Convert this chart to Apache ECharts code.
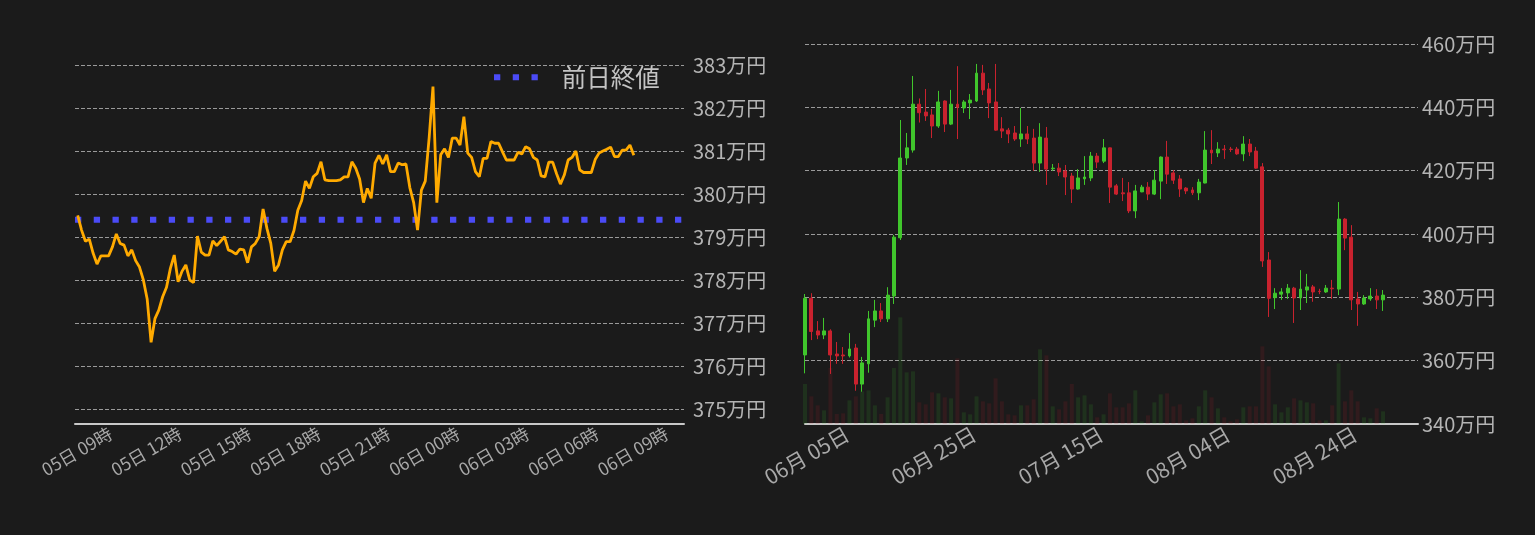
<!DOCTYPE html>
<html>
<head>
<meta charset="utf-8">
<script src="https://cdn.jsdelivr.net/npm/echarts@6/dist/echarts.min.js"></script>
<style>
html,body{margin:0;padding:0;background:#1b1b1b;}
#chart{width:1535px;height:535px;}
</style>
</head>
<body>
<div id="chart"></div>
<script>
// ---------- Left chart: intraday price (10-minute steps) ----------
const priceStart = '2023-09-05T07:35:00Z';
const priceStepMinutes = 10;
const prices = [
  379.50,379.16,378.90,378.95,378.62,378.37,378.56,378.56,378.56,378.77,
  379.07,378.85,378.81,378.56,378.70,378.45,378.30,378.00,377.55,376.55,
  377.10,377.30,377.61,377.83,378.27,378.58,377.96,378.20,378.35,378.00,
  377.94,379.02,378.65,378.58,378.58,378.91,378.80,378.90,379.01,378.70,
  378.66,378.60,378.72,378.70,378.40,378.77,378.85,379.01,379.65,379.20,
  378.85,378.20,378.35,378.70,378.89,378.89,379.15,379.62,379.85,380.30,
  380.13,380.40,380.48,380.75,380.33,380.31,380.31,380.31,380.33,380.40,
  380.40,380.75,380.60,380.35,379.80,380.13,379.90,380.72,380.90,380.70,
  380.91,380.52,380.52,380.72,380.68,380.70,380.15,379.80,379.16,380.09,
  380.30,381.30,382.50,379.80,380.91,381.05,380.85,381.30,381.30,381.14,
  381.80,380.95,380.85,380.52,380.40,380.83,380.83,381.22,381.18,381.18,
  380.98,380.79,380.79,380.79,380.97,380.93,381.10,381.05,380.85,380.79,
  380.42,380.40,380.74,380.74,380.47,380.23,380.44,380.79,380.85,381.00,
  380.56,380.50,380.50,380.50,380.80,380.95,381.00,381.04,381.09,380.87,
  380.87,381.02,381.02,381.14,380.90
];
const prevCloseName = '前日終値';
const prevClose = 379.4;
const priceAxisMin = '2023-09-05T07:28:00Z';
const priceAxisMax = '2023-09-06T09:45:00Z';
const priceTickTimes = [
  '2023-09-05T09:00:00Z','2023-09-05T12:00:00Z','2023-09-05T15:00:00Z',
  '2023-09-05T18:00:00Z','2023-09-05T21:00:00Z','2023-09-06T00:00:00Z',
  '2023-09-06T03:00:00Z','2023-09-06T06:00:00Z','2023-09-06T09:00:00Z'
];

// ---------- Right chart: daily candles ----------
const candleFirstDay = '2023-05-29T09:00:00Z';
const candleAxisSpanDays = 96.5;
const opens = [
  361.8,379.7,369.4,368.1,369.4,362.1,361.8,361.5,364.0,352.6,
  359.0,372.8,375.7,373.2,380.4,398.8,424.0,426.5,441.0,438.5,
  437.6,434.1,442.0,434.7,441.0,439.8,441.4,442.0,450.8,445.8,
  441.7,433.2,432.8,431.9,430.0,431.6,430.3,422.4,430.3,420.6,
  420.8,419.9,418.3,414.2,417.4,417.7,424.6,423.0,427.2,415.2,
  413.0,413.0,407.3,413.3,414.8,412.6,416.7,424.3,419.3,417.4,
  414.5,413.9,413.0,416.1,426.5,425.6,426.8,426.8,426.8,425.3,
  428.4,426.2,421.2,391.8,379.9,381.0,381.4,382.9,379.8,382.3,
  383.3,381.9,381.7,382.9,382.6,404.7,399.0,379.5,377.9,379.5,
  380.4,379.2
];
const closes = [
  379.7,369.2,368.1,369.4,361.8,361.5,361.5,363.7,352.6,359.3,
  373.2,375.7,373.2,380.7,399.0,424.0,427.2,441.0,438.3,437.3,
  434.1,441.7,434.7,441.0,440.0,441.7,442.3,450.8,445.5,441.4,
  432.8,432.5,431.6,430.0,431.6,430.0,422.4,430.6,420.5,420.8,
  419.6,418.0,414.2,417.7,418.0,424.6,422.7,427.2,414.8,412.6,
  412.7,407.3,413.6,414.8,412.6,417.0,424.3,418.9,417.0,414.2,
  413.6,413.0,416.4,426.5,425.6,426.8,426.6,426.7,425.3,428.4,
  425.9,420.8,391.5,379.7,381.3,381.7,382.9,379.8,382.6,383.3,
  381.7,381.8,382.9,382.7,404.7,398.7,379.2,377.9,379.8,380.4,
  379.2,380.7
];
const lows = [
  356.0,366.5,366.8,366.8,355.8,359.0,359.0,361.0,350.5,350.2,
  356.2,370.6,372.2,372.2,377.9,398.1,421.8,425.7,435.2,435.7,
  430.3,433.5,432.2,434.4,430.0,438.2,436.3,441.7,443.9,436.6,
  432.6,430.3,428.7,429.4,427.5,428.4,419.9,419.6,415.5,419.9,
  418.3,412.3,409.8,414.0,415.5,416.7,420.8,422.4,409.8,412.3,
  410.4,406.6,405.0,413.2,410.7,412.3,411.0,415.8,415.8,411.7,
  412.6,412.3,410.7,416.0,422.1,424.3,423.7,425.9,425.0,423.0,
  424.6,420.6,389.6,373.8,376.3,379.2,379.5,371.9,376.0,378.2,
  378.6,381.0,381.4,379.5,380.7,394.9,376.0,371.0,377.6,378.9,
  376.3,375.7
];
const highs = [
  381.05,381.3,372.5,373.5,369.9,365.9,364.3,368.7,365.3,361.2,
  375.7,379.2,378.2,383.2,399.7,436.0,431.9,449.9,442.8,445.8,
  439.5,445.2,442.2,445.5,453.0,442.3,444.2,453.7,453.4,447.7,
  453.7,436.9,433.5,434.1,439.8,434.1,433.2,435.0,433.8,422.1,
  422.4,421.8,419.3,420.5,424.6,425.9,425.6,430.0,427.3,415.8,
  417.7,416.4,415.5,415.5,416.4,420.2,424.5,429.4,420.2,418.6,
  414.8,414.8,417.4,432.5,432.8,429.0,428.1,427.5,427.5,430.9,
  430.0,427.5,422.4,394.3,382.9,382.9,384.2,383.3,388.6,387.4,
  383.9,382.7,383.9,385.5,410.1,405.0,402.8,381.7,380.7,382.9,
  382.6,382.3
];
const volumes = [
  120,83,56,41,168,30,32,71,83,98,
  101,56,30,80,168,320,155,158,65,59,
  95,92,80,77,197,35,29,83,68,62,
  137,68,29,26,56,56,74,224,206,53,
  44,68,120,80,86,59,20,29,92,50,
  50,62,101,8,26,65,89,92,53,59,
  11,17,53,101,80,47,20,8,14,50,
  53,53,233,173,59,35,50,77,71,65,
  62,11,11,56,182,68,101,68,20,17,
  47,38
];
const dateTickTimes = [
  '2023-06-05T00:00:00Z','2023-06-25T00:00:00Z','2023-07-15T00:00:00Z',
  '2023-08-04T00:00:00Z','2023-08-24T00:00:00Z'
];

// ---------- build ----------
const DAY = 86400000;
const pad = n => (n < 10 ? '0' : '') + n;
const t0 = Date.parse(priceStart);
const lineData = prices.map((v, k) => [t0 + k * priceStepMinutes * 60000, v]);
const lMin = Date.parse(priceAxisMin), lMax = Date.parse(priceAxisMax);
const c0 = Date.parse(candleFirstDay);
const candleData = opens.map((o, i) => [c0 + i * DAY, o, closes[i], lows[i], highs[i]]);
const UP = '#40c62c', DOWN = '#c9222e';
const volData = volumes.map((v, i) => ({
  value: [c0 + i * DAY, v],
  itemStyle: { color: closes[i] >= opens[i] ? 'rgba(64,198,44,0.13)' : 'rgba(201,34,46,0.13)' }
}));

const FONT = '"Noto Sans CJK JP", "Noto Sans", sans-serif';
const LABEL = '#b4b4b4';
const gridLine = { show: true, lineStyle: { color: '#9a9a9a', width: 1, type: [4, 2] } };

const chart = echarts.init(document.getElementById('chart'), null, { renderer: 'canvas' });
chart.setOption({
  backgroundColor: '#1b1b1b',
  animation: false,
  textStyle: { fontFamily: FONT },
  legend: {
    data: [{ name: prevCloseName, icon: 'path://M0,0h6.3v6h-6.3z M18.75,0h6.3v6h-6.3z M37.5,0h6.3v6h-6.3z' }],
    left: 489, top: 60,
    itemWidth: 43.8, itemHeight: 6,
    textStyle: { color: '#c4c4c4', fontSize: 24.5, fontFamily: FONT, padding: [0, 0, 0, 19] }
  },
  grid: [
    { left: 75, width: 609, top: 65, bottom: 111 },
    { left: 805, width: 613, top: 44, bottom: 111 }
  ],
  xAxis: [
    {
      type: 'value', gridIndex: 0, min: lMin, max: lMax,
      axisLine: { show: true, lineStyle: { color: '#c8c8c8', width: 2 } },
      axisTick: { show: false }, splitLine: { show: false },
      axisLabel: {
        customValues: priceTickTimes.map(s => Date.parse(s)),
        rotate: 30, color: '#a8a8a8', fontSize: 17.5, margin: 8, fontFamily: FONT,
        formatter: v => { const d = new Date(v); return pad(d.getUTCDate()) + '日 ' + pad(d.getUTCHours()) + '時'; }
      }
    },
    {
      type: 'value', gridIndex: 1, min: c0, max: c0 + candleAxisSpanDays * DAY,
      axisLine: { show: true, lineStyle: { color: '#c8c8c8', width: 2 } },
      axisTick: { show: false }, splitLine: { show: false },
      axisLabel: {
        customValues: dateTickTimes.map(s => Date.parse(s)),
        rotate: 30, color: '#a8a8a8', fontSize: 21, margin: 8, fontFamily: FONT,
        formatter: v => { const d = new Date(v); return pad(d.getUTCMonth() + 1) + '月 ' + pad(d.getUTCDate()) + '日'; }
      }
    }
  ],
  yAxis: [
    {
      type: 'value', gridIndex: 0, position: 'right', min: 374.65, max: 383, splitNumber: 9,
      axisLine: { show: false }, axisTick: { show: false }, splitLine: gridLine,
      axisLabel: {
        color: LABEL, fontSize: 20, margin: 9, fontFamily: FONT,
        formatter: v => (Math.abs(v - Math.round(v)) < 1e-6 ? Math.round(v) + '万円' : '')
      }
    },
    {
      type: 'value', gridIndex: 1, position: 'right', min: 340, max: 460, interval: 20,
      axisLine: { show: false }, axisTick: { show: false }, splitLine: gridLine,
      axisLabel: { color: LABEL, fontSize: 20, margin: 4, fontFamily: FONT, formatter: v => v + '万円' }
    },
    {
      type: 'value', gridIndex: 1, min: 0, max: 1140, show: false,
      splitLine: { show: false }
    }
  ],
  series: [
    {
      type: 'line', xAxisIndex: 0, yAxisIndex: 0, data: lineData,
      showSymbol: false, symbol: 'none', z: 3,
      lineStyle: { color: '#ffaa00', width: 2.8 }, itemStyle: { color: '#ffaa00' }
    },
    {
      name: prevCloseName, type: 'line', xAxisIndex: 0, yAxisIndex: 0,
      data: [[lMin, prevClose], [lMax, prevClose]],
      showSymbol: false, symbol: 'none', z: 2,
      lineStyle: { color: '#4b4bf7', width: 6, type: [6.3, 12.45] },
      itemStyle: { color: '#4b4bf7' }
    },
    {
      type: 'bar', xAxisIndex: 1, yAxisIndex: 2, data: volData, barWidth: 4, z: 1
    },
    {
      type: 'candlestick', xAxisIndex: 1, yAxisIndex: 1, data: candleData,
      encode: { x: 0, y: [1, 2, 3, 4] },
      barWidth: 3.4, z: 3,
      itemStyle: { color: UP, color0: DOWN, borderColor: UP, borderColor0: DOWN, borderWidth: 1 }
    }
  ]
});
</script>
</body>
</html>
